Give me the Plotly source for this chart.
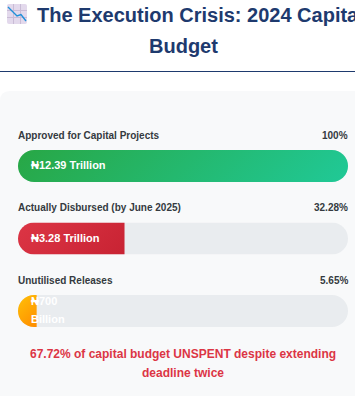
import plotly.graph_objects as go

# ---- data ----
categories = ["Approved for Capital Projects", "Actually Disbursed (by June 2025)", "Unutilised Releases"]
percent_values = [100, 32.28, 5.65]
percent_labels = ["100%", "32.28%", "5.65%"]
amount_lines = [["₦12.39 Trillion"], ["₦3.28 Trillion"], ["₦700", "Billion"]]
track_values = [100, 100, 100]
title_lines = ["The Execution Crisis: 2024 Capital", "Budget"]
note_lines = ["67.72% of capital budget UNSPENT despite extending", "deadline twice"]

W, H = 355, 396
NAVY = "#1e3a6e"
FONT = "Liberation Sans, Arial, sans-serif"


def fx(px):
    return px / W


def fy(py):
    return 1 - py / H


# plot area spans three category bands, 72.5 px each, first band centred on y=166
band = 72.5
plot_top = 166 - band / 2
plot_bot = plot_top + 3 * band

fig = go.Figure()
fig.add_bar(y=categories, x=track_values, orientation="h", marker=dict(color="#e9ecef", line_width=0),
            hoverinfo="skip", showlegend=False)
fig.add_bar(y=categories, x=percent_values, orientation="h",
            marker=dict(color=["#28a745", "#dc3545", "#ffc107"], line_width=0),
            hoverinfo="skip", showlegend=False)

ann = []
for cat, pct, lines in zip(categories, percent_labels, amount_lines):
    ann.append(dict(x=0, y=cat, xref="x", yref="y", text=cat, xanchor="left", yanchor="middle", showarrow=False,
                    xshift=-2, yshift=31, font=dict(size=10, color="#343a40", family=FONT, weight="bold")))
    ann.append(dict(x=100, y=cat, xref="x", yref="y", text=pct, xanchor="right", yanchor="middle", showarrow=False,
                    xshift=2, yshift=31, font=dict(size=10, color="#343a40", family=FONT, weight="bold")))
    n = len(lines)
    for i, line in enumerate(lines):
        ann.append(dict(x=0, y=cat, xref="x", yref="y", text=line, xanchor="left", yanchor="middle", showarrow=False,
                        xshift=11, yshift=1 + (n - 1) * 9 - i * 18,
                        font=dict(size=11, color="white", family=FONT, weight="bold")))

ann.append(dict(x=fx(35), y=fy(15), xref="paper", yref="paper", text=title_lines[0], xanchor="left", yanchor="middle",
                showarrow=False, font=dict(size=20, color=NAVY, family=FONT, weight="bold")))
ann.append(dict(x=fx(183.5), y=fy(46), xref="paper", yref="paper", text=title_lines[1], xanchor="center",
                yanchor="middle", showarrow=False, font=dict(size=20, color=NAVY, family=FONT, weight="bold")))
ann.append(dict(x=fx(183), y=fy(354), xref="paper", yref="paper", text=note_lines[0], xanchor="center",
                yanchor="middle", showarrow=False, font=dict(size=12, color="#dc3545", family=FONT, weight="bold")))
ann.append(dict(x=fx(183), y=fy(372.5), xref="paper", yref="paper", text=note_lines[1], xanchor="center",
                yanchor="middle", showarrow=False, font=dict(size=12, color="#dc3545", family=FONT, weight="bold")))

r = 10
card_path = (f"M {fx(0)} {fy(H)} L {fx(0)} {fy(91 + r)} Q {fx(0)} {fy(91)} {fx(r)} {fy(91)} "
             f"L {fx(W)} {fy(91)} L {fx(W)} {fy(H)} Z")

shapes = [
    dict(type="path", xref="paper", yref="paper", path=card_path, fillcolor="#f8f9fa", line_width=0, layer="below"),
    dict(type="line", xref="paper", yref="paper", x0=0, x1=1, y0=fy(71.5), y1=fy(71.5),
         line=dict(color=NAVY, width=1), layer="below"),
    # chart-with-downwards-trend icon
    dict(type="path", xref="paper", yref="paper", fillcolor="#e3d9ec", line_width=0, layer="above",
         path=(f"M {fx(9)} {fy(4)} L {fx(25)} {fy(4)} Q {fx(27)} {fy(4)} {fx(27)} {fy(6)} L {fx(27)} {fy(22)} "
               f"Q {fx(27)} {fy(24)} {fx(25)} {fy(24)} L {fx(9)} {fy(24)} Q {fx(7)} {fy(24)} {fx(7)} {fy(22)} "
               f"L {fx(7)} {fy(6)} Q {fx(7)} {fy(4)} {fx(9)} {fy(4)} Z")),
]
for p in (13.5, 20.5):
    shapes.append(dict(type="line", xref="paper", yref="paper", x0=fx(p), x1=fx(p), y0=fy(4), y1=fy(24),
                       line=dict(color="#c9bcd6", width=1), layer="above"))
for p in (10.5, 17.5):
    shapes.append(dict(type="line", xref="paper", yref="paper", x0=fx(7), x1=fx(27), y0=fy(p), y1=fy(p),
                       line=dict(color="#c9bcd6", width=1), layer="above"))
shapes.append(dict(type="path", xref="paper", yref="paper", line=dict(color="#1e90d8", width=1.4), layer="above",
                   path=(f"M {fx(8)} {fy(7)} L {fx(17)} {fy(16)} L {fx(21)} {fy(14.5)} L {fx(26)} {fy(21)}")))

fig.update_layout(
    width=W, height=H, margin=dict(l=0, r=0, t=0, b=0), autosize=False,
    paper_bgcolor="white", plot_bgcolor="rgba(0,0,0,0)",
    barmode="overlay", bargap=1 - 32 / band,
    xaxis=dict(domain=[fx(18), fx(348)], range=[0, 100], visible=False, fixedrange=True),
    yaxis=dict(domain=[fy(plot_bot), fy(plot_top)], range=[2.5, -0.5], visible=False, fixedrange=True),
    annotations=ann, shapes=shapes, showlegend=False,
)

# bars stay library-drawn; this only adds CSS-style gradients and the rounded track clip
post = """
document.body.style.margin='0';document.body.style.overflow='hidden';
var gd=document.getElementById('{plot_id}');
var NS='http://www.w3.org/2000/svg';
var svg=gd.querySelector('.main-svg');
var defs=svg.querySelector('defs');
var cols=[['#28a745','#20c997'],['#dc3545','#c82333'],['#ffc107','#ff8c00']];
var traces=gd.querySelectorAll('.barlayer .trace');
var track=traces[0].querySelectorAll('.point path');
var fills=traces[1].querySelectorAll('.point path');
track.forEach(function(t,i){
  var b=t.getBBox();
  var c=document.createElementNS(NS,'clipPath');c.setAttribute('id','trk'+i);
  var rc=document.createElementNS(NS,'rect');
  rc.setAttribute('x',b.x);rc.setAttribute('y',b.y);rc.setAttribute('width',b.width);rc.setAttribute('height',b.height);
  rc.setAttribute('rx',b.height/2);rc.setAttribute('ry',b.height/2);
  c.appendChild(rc);defs.appendChild(c);
  t.setAttribute('clip-path','url(#trk'+i+')');
  var f=fills[i];f.setAttribute('clip-path','url(#trk'+i+')');
  var fb=f.getBBox();
  var cx=fb.x+fb.width/2,cy=fb.y+fb.height/2,d=(fb.width+fb.height)/4;
  var g=document.createElementNS(NS,'linearGradient');g.setAttribute('id','grd'+i);
  g.setAttribute('gradientUnits','userSpaceOnUse');
  g.setAttribute('x1',cx-d);g.setAttribute('y1',cy-d);g.setAttribute('x2',cx+d);g.setAttribute('y2',cy+d);
  [0,1].forEach(function(k){var s=document.createElementNS(NS,'stop');s.setAttribute('offset',k);s.setAttribute('stop-color',cols[i][k]);g.appendChild(s);});
  defs.appendChild(g);
  f.style.fill='url(#grd'+i+')';
});
"""
fig.write_html("out.html", post_script=post, config={"displayModeBar": False})
